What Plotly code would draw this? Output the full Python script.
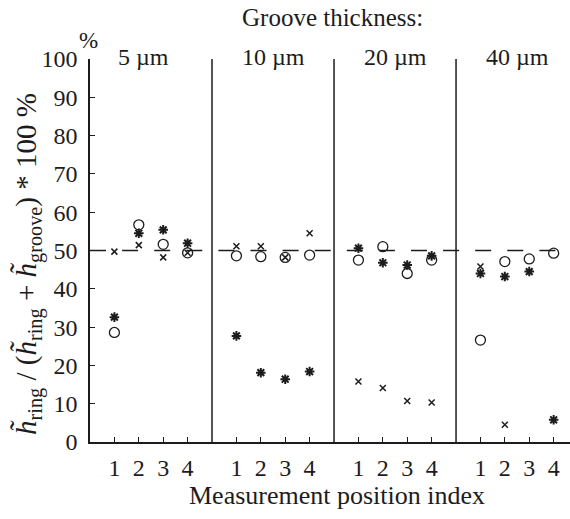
import plotly.graph_objects as go

# Groove thickness panels and measurement positions
panels = ["5 µm", "10 µm", "20 µm", "40 µm"]
positions = [1, 2, 3, 4]

# Ratio h_ring / (h_ring + h_groove) * 100 %, one list per marker series,
# values ordered panel by panel, position 1..4
circle_vals = [28.6, 56.7, 51.6, 49.4,
               48.6, 48.4, 48.2, 48.8,
               47.5, 51.0, 44.0, 47.5,
               26.6, 47.1, 47.8, 49.3]
star_vals = [32.6, 54.5, 55.4, 51.9,
             27.7, 18.1, 16.4, 18.4,
             50.6, 46.8, 46.2, 48.6,
             44.0, 43.2, 44.5, 5.8]
cross_vals = [49.7, 51.4, 48.2, 49.4,
              51.1, 51.1, 48.2, 54.5,
              15.8, 14.1, 10.7, 10.3,
              45.8, 4.5, None, None]

reference_level = 50
y_ticks = list(range(0, 101, 10))

PANEL_W = 5
xs = [PANEL_W * p + j for p in range(len(panels)) for j in positions]
tick_text = [str(j) for p in range(len(panels)) for j in positions]

INK = "#1c1c1c"
FONT = "Liberation Serif"

fig = go.Figure()

# dashed 50 % reference line across all panels
fig.add_trace(go.Scatter(
    x=[0, 20], y=[reference_level, reference_level], mode="lines",
    line=dict(color=INK, width=1.3, dash="16px,16.1px"),
    hoverinfo="skip", showlegend=False))

fig.add_trace(go.Scatter(
    x=xs, y=circle_vals, mode="markers", showlegend=False,
    marker=dict(symbol="circle-open", size=10, color=INK, line=dict(width=1.3))))
fig.add_trace(go.Scatter(
    x=xs, y=star_vals, mode="markers", showlegend=False,
    marker=dict(symbol="asterisk-open", size=8, color=INK, line=dict(width=2))))
fig.add_trace(go.Scatter(
    x=xs, y=cross_vals, mode="markers", showlegend=False,
    marker=dict(symbol="x-thin-open", size=6, color=INK, line=dict(width=1.5))))

# panel separators
for k in range(1, len(panels)):
    fig.add_shape(type="line", xref="x", yref="y",
                  x0=PANEL_W * k, x1=PANEL_W * k, y0=0, y1=100,
                  line=dict(color=INK, width=1.5))

annotations = []
for k, name in enumerate(panels):
    annotations.append(dict(
        x=PANEL_W * k + 2.5 - (0.3 if k == 0 else 0), y=100, xref="x", yref="y",
        text=name, showarrow=False, yanchor="middle", yshift=2,
        font=dict(family=FONT, size=24, color=INK)))

annotations += [
    dict(x=0.505, y=1, xref="paper", yref="paper", text="Groove thickness:",
         showarrow=False, yanchor="middle", yshift=42,
         font=dict(family=FONT, size=25, color=INK)),
    dict(x=0.515, y=0, xref="paper", yref="paper", text="Measurement position index",
         showarrow=False, yanchor="middle", yshift=-53,
         font=dict(family=FONT, size=26, color=INK)),
    dict(x=0, y=1, xref="paper", yref="paper", text="%",
         showarrow=False, xanchor="center", yanchor="middle", xshift=-2, yshift=19,
         font=dict(family=FONT, size=23, color=INK)),
    dict(x=0, y=0.465, xref="paper", yref="paper", textangle=-90,
         text=("<i>h̃</i><sub>ring</sub> / (<i>h̃</i><sub>ring</sub> + "
               "<i>h̃</i><sub>groove</sub>) * 100 %"),
         showarrow=False, xanchor="center", yanchor="middle", xshift=-61,
         font=dict(family=FONT, size=29, color=INK)),
]

fig.update_layout(
    width=570, height=519,
    margin=dict(l=90, r=0, t=59, b=77),
    paper_bgcolor="white", plot_bgcolor="white",
    annotations=annotations,
    xaxis=dict(range=[0, 19.67], tickvals=xs, ticktext=tick_text,
               ticks="inside", ticklen=5, tickwidth=1.2, tickcolor=INK,
               showline=True, linecolor=INK, linewidth=1.5,
               showgrid=False, zeroline=False, ticklabelstandoff=3,
               tickfont=dict(family=FONT, size=24, color=INK)),
    yaxis=dict(range=[0, 100], tickvals=y_ticks,
               ticks="inside", ticklen=5, tickwidth=1.2, tickcolor=INK,
               showline=True, linecolor=INK, linewidth=1.5,
               showgrid=False, zeroline=False, ticklabelstandoff=6,
               tickfont=dict(family=FONT, size=24, color=INK)),
)

fig.write_html("out.html")
